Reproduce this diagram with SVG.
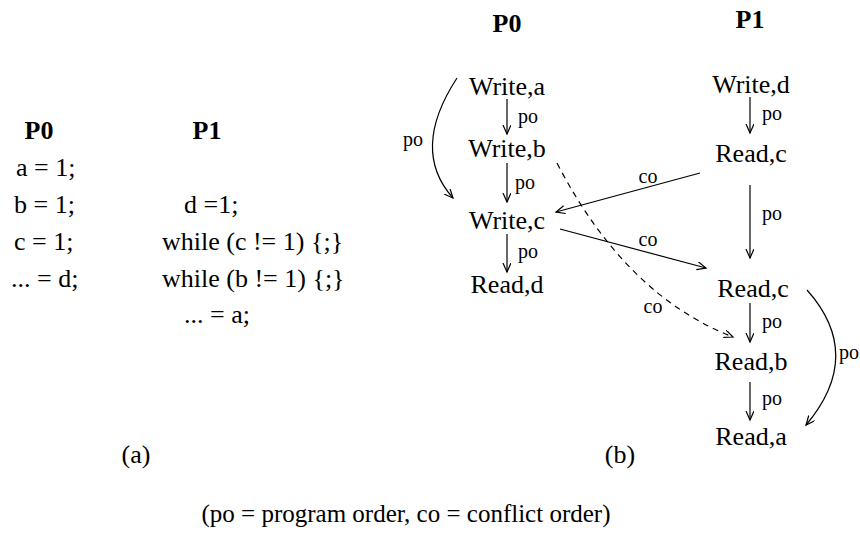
<svg xmlns="http://www.w3.org/2000/svg" width="860" height="535" viewBox="0 0 860 535">
<style>
text{font-family:"Liberation Serif","Times New Roman",serif;fill:#000}
.h{font-weight:bold;font-size:26px;text-anchor:middle}
.c{font-size:26px}
.n{font-size:26px;text-anchor:middle}
.l{font-size:20px}
.lm{font-size:20px;text-anchor:middle}
.e{fill:none;stroke:#000;stroke-width:1.2}
.d{stroke-dasharray:6 5}
</style>
<defs>
<marker id="arr" markerUnits="userSpaceOnUse" markerWidth="12" markerHeight="10" refX="9" refY="4" orient="auto">
<path d="M0,0 L9,4 L0,8" fill="none" stroke="#000" stroke-width="1.2"/>
</marker>
</defs>
<rect width="860" height="535" fill="#fff"/>
<g id="code-a">
<text class="h" x="39" y="139">P0</text>
<text class="h" x="207" y="139">P1</text>
<text class="c" x="16" y="176">a = 1;</text>
<text class="c" x="14" y="213">b = 1;</text>
<text class="c" x="14" y="250">c = 1;</text>
<text class="c" x="11" y="287">... = d;</text>
<text class="c" x="184" y="213">d =1;</text>
<text class="c" x="162" y="250">while (c != 1) {;}</text>
<text class="c" x="162" y="287">while (b != 1) {;}</text>
<text class="c" x="184" y="323">... = a;</text>
<text class="c" x="136" y="463" text-anchor="middle">(a)</text>
</g>
<g id="headers-b">
<text class="h" x="507" y="32">P0</text>
<text class="h" x="750" y="28">P1</text>
<text class="c" x="620" y="463" text-anchor="middle">(b)</text>
</g>
<g id="n-write-a"><text class="n" x="507" y="95">Write,a</text></g>
<g id="n-write-b"><text class="n" x="507" y="157">Write,b</text></g>
<g id="n-write-c"><text class="n" x="507" y="229">Write,c</text></g>
<g id="n-read-d"><text class="n" x="507" y="293">Read,d</text></g>
<g id="n-write-d"><text class="n" x="751" y="93">Write,d</text></g>
<g id="n-read-c1"><text class="n" x="751" y="162">Read,c</text></g>
<g id="n-read-c2"><text class="n" x="753" y="297">Read,c</text></g>
<g id="n-read-b"><text class="n" x="751" y="370">Read,b</text></g>
<g id="n-read-a"><text class="n" x="751" y="445">Read,a</text></g>
<g id="connectors">
<line class="e" x1="507" y1="99" x2="507" y2="134" marker-end="url(#arr)"/>
<line class="e" x1="507" y1="163" x2="507" y2="202" marker-end="url(#arr)"/>
<line class="e" x1="507" y1="234" x2="507" y2="272" marker-end="url(#arr)"/>
<path class="e" d="M457,78 Q410,150 453,198" marker-end="url(#arr)"/>
<line class="e" x1="750" y1="97" x2="750" y2="133" marker-end="url(#arr)"/>
<line class="e" x1="750" y1="185" x2="750" y2="258" marker-end="url(#arr)"/>
<line class="e" x1="750" y1="303" x2="750" y2="342" marker-end="url(#arr)"/>
<line class="e" x1="750" y1="382" x2="750" y2="420" marker-end="url(#arr)"/>
<path class="e" d="M807,290 Q865,355 806,425" marker-end="url(#arr)"/>
<line class="e" x1="700" y1="173" x2="556" y2="212" marker-end="url(#arr)"/>
<line class="e" x1="560" y1="229" x2="706" y2="268" marker-end="url(#arr)"/>
<path class="e d" d="M557,163 Q625,295 733,337" marker-end="url(#arr)"/>
<text class="l" x="518" y="123">po</text>
<text class="l" x="515" y="189">po</text>
<text class="l" x="518" y="258">po</text>
<text class="l" x="403" y="146">po</text>
<text class="l" x="762" y="120">po</text>
<text class="l" x="762" y="220">po</text>
<text class="l" x="762" y="328">po</text>
<text class="l" x="762" y="405">po</text>
<text class="l" x="839" y="359">po</text>
<text class="lm" x="648" y="183">co</text>
<text class="lm" x="648" y="246">co</text>
<text class="lm" x="653" y="313">co</text>
</g>
<g id="caption">
<text class="c" x="406" y="522" text-anchor="middle" style="font-size:25px">(po = program order, co = conflict order)</text>
</g>
</svg>
